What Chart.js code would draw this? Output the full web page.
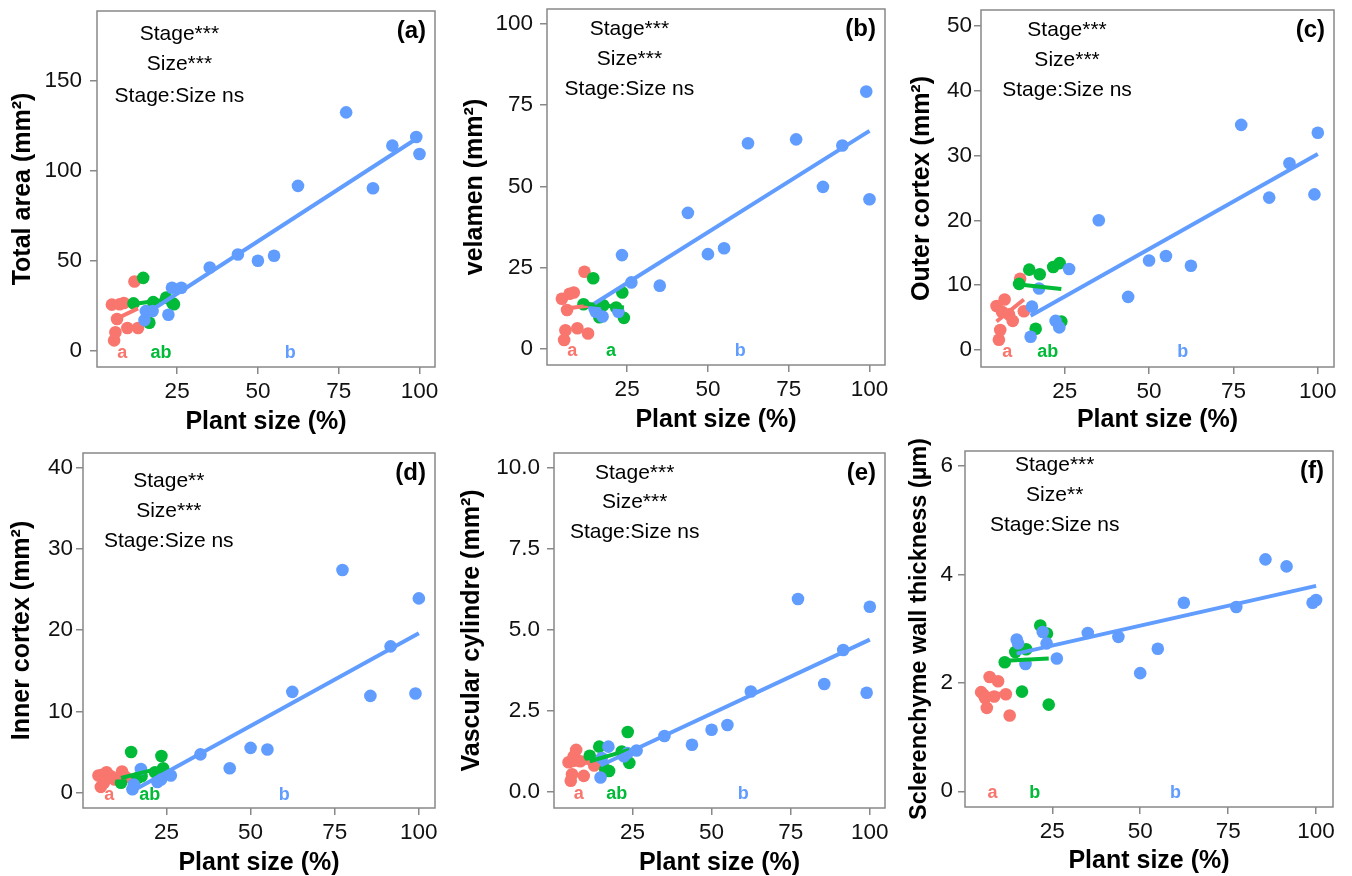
<!DOCTYPE html>
<html>
<head>
<meta charset="utf-8">
<script src="https://cdn.jsdelivr.net/npm/chart.js@4.4.0/dist/chart.umd.min.js"></script>
<style>
  body { margin: 0; background: #fff; }
  #fig { position: relative; width: 1352px; height: 876px; }
  #fig canvas { position: absolute; }
</style>
</head>
<body>
<div id="fig">
  <canvas id="pa"></canvas>
  <canvas id="pb"></canvas>
  <canvas id="pc"></canvas>
  <canvas id="pd"></canvas>
  <canvas id="pe"></canvas>
  <canvas id="pf"></canvas>
</div>
<script>
/* ===============================
   data
================================ */
const xTicks = [25, 50, 75, 100];
const groupColors = ['#F8766D', '#00BA38', '#619CFF'];
const letterX = [8, 20, 60];          // where the a / ab / b letters sit
const noteX = 25.7;                   // centre of the Stage / Size text

// plant size (%) per group
const sizeRed   = [4.8, 5.5, 5.9, 6.4, 7.2, 8.5, 9.6, 11.8, 12.9];
const sizeGreen = [11.5, 14.5, 16.4, 17.6, 21.6, 23.5, 24.0];
const sizeBlue  = [14.9, 15.3, 17.4, 22.3, 23.4, 26.3, 35.1, 43.8, 50.0, 55.0, 62.4, 77.3, 85.6, 91.6, 99.0, 100.0];

// (a) total area
const areaRed   = [25.6, 5.7, 10.2, 17.6, 25.8, 26.5, 12.6, 38.5, 12.6];
const areaGreen = [26.3, 40.5, 15.5, 27.0, 29.5, 26.5, 25.8];
const areaBlue  = [17, 22, 22, 20, 35, 35, 46.3, 53.5, 50.0, 52.8, 91.7, 132.6, 90.4, 114.1, 118.9, 109.4];
const areaFit   = [[16.5, 23.5], [26, 29], [20, 119]];
const areaTicks = [0, 50, 100, 150];

// (b) velamen
const velRed   = [15.5, 2.8, 5.8, 12, 17.0, 17.4, 6.4, 23.8, 4.8];
const velGreen = [13.8, 21.8, 9.8, 13.5, 12.8, 17.4, 9.6];
const velBlue  = [12.5, 11.5, 10.0, 11.5, 28.9, 20.5, 19.5, 41.9, 29.2, 31.0, 63.3, 64.5, 49.9, 62.6, 79.2, 46.1];
const velFit   = [[12.3, 13.3], [14.0, 12.8], [14, 67.1]];
const velTicks = [0, 25, 50, 75, 100];

// (c) outer cortex
const outRed   = [6.8, 1.6, 3.1, 5.9, 7.8, 5.5, 4.5, 11.0, 6.0];
const outGreen = [10.2, 12.4, 3.3, 11.7, 12.8, 13.4, 4.4];
const outBlue  = [2.05, 6.7, 9.5, 4.5, 3.5, 12.5, 20.0, 8.2, 13.8, 14.5, 13.0, 34.7, 23.5, 28.8, 24.0, 33.5];
const outFit   = [[4.4, 7.8], [10.1, 9.4], [5.3, 30.2]];
const outTicks = [0, 10, 20, 30, 40, 50];

// (d) inner cortex
const innRed   = [2.1, 0.7, 2.2, 1.2, 2.5, 2.0, 1.6, 2.6, 1.9];
const innGreen = [1.2, 5.0, 1.8, 2.0, 2.5, 4.5, 3.0];
const innBlue  = [0.4, 1.0, 2.9, 1.3, 1.6, 2.1, 4.7, 3.0, 5.5, 5.3, 12.4, 27.4, 11.9, 18.0, 12.2, 23.9];
const innFit   = [[1.8, 1.9], [1.8, 3.1], [0.2, 19.6]];
const innTicks = [0, 10, 20, 30, 40];

// (e) vascular cylindre
const vasRed   = [0.92, 0.35, 0.55, 1.1, 1.3, 0.95, 0.5, 1.0, 0.82];
const vasGreen = [1.12, 1.4, 0.7, 0.65, 1.25, 1.85, 0.9];
const vasBlue  = [0.45, 1.05, 1.4, 1.1, 1.2, 1.28, 1.73, 1.46, 1.92, 2.07, 3.1, 5.95, 3.33, 4.38, 3.06, 5.71];
const vasFit   = [[0.8, 0.95], [0.95, 1.3], [0.82, 4.7]];
const vasTicks = [0, 2.5, 5, 7.5, 10];

// (f) sclerenchyme wall thickness
const sclRed   = [1.83, 1.78, 1.72, 1.54, 2.11, 1.75, 2.03, 1.79, 1.40];
const sclGreen = [2.38, 2.57, 1.84, 2.62, 3.06, 2.91, 1.6];
const sclBlue  = [2.8, 2.73, 2.35, 2.94, 2.73, 2.45, 2.92, 2.85, 2.18, 2.63, 3.48, 3.40, 4.28, 4.15, 3.48, 3.53];
const sclFit   = [[1.8, 1.8], [2.41, 2.45], [2.54, 3.79]];
const sclTicks = [0, 2, 4, 6];

const notes3 = ['Stage***', 'Size***', 'Stage:Size ns'];

/* ===============================
   panels
================================ */
const FONT = "'Liberation Sans', Arial, sans-serif";
const FRAME = '#888888';
Chart.defaults.font.family = FONT;

const panels = [
  { id: 'pa', tag: '(a)', title: 'Total area (mm²)', ys: [areaRed, areaGreen, areaBlue], fit: areaFit,
    yTicks: areaTicks, yMin: -9.1, yMax: 189, notes: notes3, noteY: [176.5, 159.8, 142.2], letters: ['a', 'ab', 'b'],
    g: { left: 0, top: 0, w: 448, h: 438, padTop: 11, padRight: 13, yW: 97, xH: 71, yTP: 10.8, xTP: 3.8, yTS: 25, tp: 8 } },
  { id: 'pb', tag: '(b)', title: 'velamen (mm²)', ys: [velRed, velGreen, velBlue], fit: velFit,
    yTicks: velTicks, yMin: -4.9, yMax: 104.6, notes: notes3, noteY: [98.7, 89.4, 80.2], letters: ['a', 'a', 'b'],
    g: { left: 448, top: 0, w: 450, h: 438, padTop: 9, padRight: 13, yW: 99, xH: 73, yTP: 14.5, xTP: 5.5, yTS: 25, tp: 7 } },
  { id: 'pc', tag: '(c)', title: 'Outer cortex (mm²)', ys: [outRed, outGreen, outBlue], fit: outFit,
    yTicks: outTicks, yMin: -2.6, yMax: 52.4, notes: notes3, noteY: [49.4, 44.8, 40.2], letters: ['a', 'ab', 'b'],
    g: { left: 898, top: 0, w: 454, h: 438, padTop: 10, padRight: 18, yW: 83, xH: 71, yTP: 11.2, xTP: 5.5, yTS: 25, tp: 2 } },
  { id: 'pd', tag: '(d)', title: 'Inner cortex (mm²)', ys: [innRed, innGreen, innBlue], fit: innFit,
    yTicks: innTicks, yMin: -1.9, yMax: 41.8, notes: ['Stage**', 'Size***', 'Stage:Size ns'], noteY: [38.5, 34.8, 31.1], letters: ['a', 'ab', 'b'],
    g: { left: 0, top: 438, w: 448, h: 438, padTop: 15, padRight: 13, yW: 83, xH: 68, yTP: 10, xTP: 0.2, yTS: 25, tp: 3 } },
  { id: 'pe', tag: '(e)', title: 'Vascular cylindre (mm²)', ys: [vasRed, vasGreen, vasBlue], fit: vasFit,
    yTicks: vasTicks, yMin: -0.49, yMax: 10.45, notes: notes3, noteY: [9.86, 8.97, 8.04], letters: ['a', 'ab', 'b'], fixed: 1,
    g: { left: 448, top: 438, w: 450, h: 438, padTop: 15, padRight: 13, yW: 106, xH: 68, yTP: 11.2, xTP: 0.2, yTS: 25, tp: 7 } },
  { id: 'pf', tag: '(f)', title: 'Sclerenchyme wall thickness (µm)', ys: [sclRed, sclGreen, sclBlue], fit: sclFit,
    yTicks: sclTicks, yMin: -0.29, yMax: 6.28, notes: ['Stage***', 'Size**', 'Stage:Size ns'], noteY: [6.04, 5.48, 4.92], letters: ['a', 'b', 'b'],
    g: { left: 898, top: 438, w: 454, h: 438, padTop: 13, padRight: 19, yW: 67, xH: 69, yTP: 9.6, xTP: 2.7, yTS: 23.5, tp: 5 } }
];

const sizes = [sizeRed, sizeGreen, sizeBlue];

// frame, panel tag, test results and group letters
const panelText = {
  id: 'panelText',
  afterDraw(chart, args, o) {
    const { ctx, chartArea: a, scales: { x, y } } = chart;
    ctx.save();
    ctx.strokeStyle = FRAME;
    ctx.lineWidth = 1.5;
    ctx.strokeRect(a.left, a.top, a.right - a.left, a.bottom - a.top);

    ctx.fillStyle = '#000';
    ctx.textAlign = 'center';
    ctx.textBaseline = 'middle';
    ctx.font = '21px ' + FONT;
    o.notes.forEach((t, i) => ctx.fillText(t, x.getPixelForValue(noteX), y.getPixelForValue(o.noteY[i]) + 1));

    ctx.font = 'bold 24px ' + FONT;
    ctx.textAlign = 'right';
    ctx.fillText(o.tag, a.right - 9, a.top + 20);

    ctx.font = 'bold 18px ' + FONT;
    ctx.textAlign = 'center';
    o.letters.forEach((t, i) => {
      ctx.fillStyle = groupColors[i];
      ctx.fillText(t, x.getPixelForValue(letterX[i]), y.getPixelForValue(0) + 2);
    });
    ctx.restore();
  }
};

panels.forEach(p => {
  const cv = document.getElementById(p.id);
  cv.width = p.g.w;
  cv.height = p.g.h;
  cv.style.left = p.g.left + 'px';
  cv.style.top = p.g.top + 'px';

  const datasets = [];
  // points: red first (drawn underneath), lines on top
  sizes.forEach((xs, gi) => {
    datasets.push({
      type: 'scatter',
      data: xs.map((v, i) => ({ x: v, y: p.ys[gi][i] })),
      backgroundColor: groupColors[gi],
      borderWidth: 0,
      pointRadius: 6.3,
      order: 6 - gi
    });
    datasets.push({
      type: 'line',
      data: [
        { x: Math.min(...xs), y: p.fit[gi][0] },
        { x: Math.max(...xs), y: p.fit[gi][1] }
      ],
      borderColor: groupColors[gi],
      borderWidth: 4,
      pointRadius: 0,
      fill: false,
      order: 3 - gi
    });
  });

  new Chart(cv, {
    type: 'scatter',
    data: { datasets },
    options: {
      responsive: false,
      animation: false,
      layout: { padding: { top: p.g.padTop, right: p.g.padRight, left: 0, bottom: 0 } },
      plugins: {
        legend: { display: false },
        tooltip: { enabled: false },
        panelText: { notes: p.notes, noteY: p.noteY, tag: p.tag, letters: p.letters }
      },
      scales: {
        x: {
          type: 'linear',
          min: 0.2,
          max: 104.8,
          afterBuildTicks: s => { s.ticks = xTicks.map(v => ({ value: v })); },
          afterFit: s => { s.height = p.g.xH; s.paddingLeft = 0; s.paddingRight = 0; },
          ticks: { font: { size: 22.5 }, color: '#111', padding: 4, autoSkip: false, maxRotation: 0 },
          grid: { drawOnChartArea: false, drawTicks: true, tickLength: 7, color: FRAME, lineWidth: 1.5 },
          border: { display: false },
          title: {
            display: true, text: 'Plant size (%)', color: '#000',
            font: { size: 25, weight: 'bold', lineHeight: 1 },
            padding: { top: 0, bottom: p.g.xTP }
          }
        },
        y: {
          type: 'linear',
          min: p.yMin,
          max: p.yMax,
          afterBuildTicks: s => { s.ticks = p.yTicks.map(v => ({ value: v })); },
          afterFit: s => { s.width = p.g.yW; s.paddingTop = 0; s.paddingBottom = 0; },
          ticks: {
            font: { size: 22.5 }, color: '#111', padding: p.g.tp, autoSkip: false,
            callback: v => p.fixed ? v.toFixed(p.fixed) : v
          },
          grid: { drawOnChartArea: false, drawTicks: true, tickLength: 7, color: FRAME, lineWidth: 1.5 },
          border: { display: false },
          title: {
            display: true, text: p.title, color: '#000',
            font: { size: p.g.yTS, weight: 'bold', lineHeight: 1 },
            padding: { top: p.g.yTP, bottom: 0 }
          }
        }
      }
    },
    plugins: [panelText]
  });
});
</script>
</body>
</html>
